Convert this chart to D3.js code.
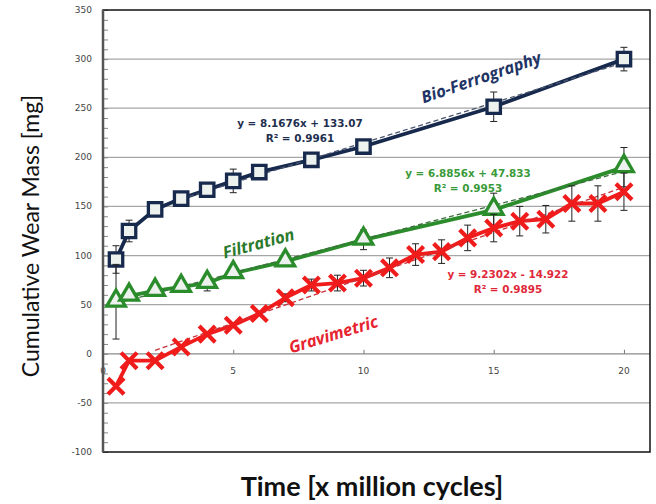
<!DOCTYPE html>
<html>
<head>
<meta charset="utf-8">
<script src="https://cdn.jsdelivr.net/npm/d3@7"></script>
<style>
  body { margin: 0; background: #fff; }
</style>
</head>
<body>
<div id="chart"></div>
<script>
// values
const bioX = [0.5, 1, 2, 3, 4, 5, 6, 8, 10, 15, 20]
const bioY = [96, 125, 147, 158, 167, 176, 185, 197.5, 211, 251.5, 300]
const bioErr = [14, 11, 2, 2, 2, 12, 2, 2, 2, 15, 12]

const filtX = [0.5, 1, 2, 3, 4, 5, 7, 10, 15, 20]
const filtY = [53, 59, 64, 68, 72, 82, 94, 116, 146.5, 190]
const filtErr = [38, 2, 2, 2, 8, 2, 2, 10, 17, 20]

const gravX = [0.5, 1, 2, 3, 4, 5, 6, 7, 8, 9, 10, 11, 12, 13, 14, 15, 16, 17, 18, 19, 20]
const gravY = [-33, -7, -7, 7, 20, 29, 41, 57, 70, 72, 77, 87.5, 101, 104, 118, 128, 135, 137, 153, 153, 165]
const gravErr = [2, 2, 2, 2, 2, 2, 2, 4, 6, 8, 8, 10, 11, 12, 13, 14, 15, 14, 18, 18, 19]

// excel trendlines: slope, intercept, x range
const bioTrend = [8.1676, 133.07, 3, 20]
const filtTrend = [6.8856, 47.833, 0.5, 20]
const gravTrend = [9.2302, -14.922, 2, 20]

const yTicks = [-100, -50, 0, 50, 100, 150, 200, 250, 300, 350]
const xTicks = [0, 5, 10, 15, 20]

async function drawChart() {
  let dimensions = {
    width: 656,
    height: 504,
    margin: { top: 10, right: 6, bottom: 52, left: 103 },
  }
  dimensions.boundedWidth = dimensions.width - dimensions.margin.left - dimensions.margin.right
  dimensions.boundedHeight = dimensions.height - dimensions.margin.top - dimensions.margin.bottom

  const svg = d3.select("#chart")
    .append("svg")
      .attr("width", dimensions.width)
      .attr("height", dimensions.height)

  const bounds = svg.append("g")
    .attr("transform", `translate(${dimensions.margin.left},${dimensions.margin.top})`)

  const xScale = d3.scaleLinear().domain([0, 21]).range([0, dimensions.boundedWidth])
  const yScale = d3.scaleLinear().domain([-100, 350]).range([dimensions.boundedHeight, 0])

  // gridlines
  bounds.selectAll(".grid")
    .data(yTicks.filter(d => d != -100 && d != 350))
    .enter().append("line")
      .attr("x1", 0).attr("x2", dimensions.boundedWidth)
      .attr("y1", d => yScale(d)).attr("y2", d => yScale(d))
      .attr("stroke", d => d == 0 ? "#8a8a8a" : "#a6a6a6")
      .attr("stroke-width", 1.2)

  // y axis with minor ticks pointing inwards
  const yAxis = d3.axisRight(yScale)
    .tickValues(d3.range(-100, 351, 10))
    .tickSize(5)
    .tickFormat("")
  const yAxisG = bounds.append("g").call(yAxis)
  yAxisG.select(".domain").remove()
  yAxisG.selectAll(".tick line").attr("stroke", "#888")

  bounds.append("g")
    .selectAll("text")
    .data(yTicks)
    .enter().append("text")
      .attr("x", -11)
      .attr("y", d => yScale(d) + 3)
      .attr("text-anchor", "end")
      .attr("font-family", "DejaVu Sans")
      .attr("font-size", 9)
      .attr("fill", "#444")
      .text(d => d)

  // x axis sits at y = 0
  const xAxis = d3.axisTop(xScale).tickValues(xTicks.slice(1)).tickSize(4).tickFormat("")
  const xAxisG = bounds.append("g")
    .attr("transform", `translate(0,${yScale(0)})`)
    .call(xAxis)
  xAxisG.select(".domain").remove()
  xAxisG.selectAll(".tick line").attr("stroke", "#777")

  bounds.append("g")
    .selectAll("text")
    .data(xTicks)
    .enter().append("text")
      .attr("x", d => xScale(d))
      .attr("y", yScale(0) + 20)
      .attr("text-anchor", "middle")
      .attr("font-family", "DejaVu Sans")
      .attr("font-size", 9)
      .attr("fill", "#444")
      .text(d => d)

  // frame
  bounds.append("rect")
    .attr("width", dimensions.boundedWidth)
    .attr("height", dimensions.boundedHeight)
    .attr("fill", "none")
    .attr("stroke", "#111")
    .attr("stroke-width", 1.5)
  bounds.append("line")
    .attr("x1", 0).attr("x2", 0)
    .attr("y1", 0).attr("y2", dimensions.boundedHeight)
    .attr("stroke", "#555")
    .attr("stroke-width", 2.5)

  const series = [
    { x: bioX, y: bioY, err: bioErr, trend: bioTrend, color: "#172a4d", dash: "#4a5670", marker: "square" },
    { x: filtX, y: filtY, err: filtErr, trend: filtTrend, color: "#2a8c2a", dash: "#3f6f3f", marker: "triangle" },
    { x: gravX, y: gravY, err: gravErr, trend: gravTrend, color: "#f01c1c", dash: "#c8323c", marker: "times" },
  ]

  const lineGenerator = d3.line()
    .x(d => xScale(d[0]))
    .y(d => yScale(d[1]))

  series.forEach(s => {
    const pts = s.x.map((x, i) => [x, s.y[i], s.err[i]])
    const g = bounds.append("g")

    g.append("path")
      .attr("d", lineGenerator(pts))
      .attr("fill", "none")
      .attr("stroke", s.color)
      .attr("stroke-width", 3.8)
      .attr("stroke-linejoin", "round")

    const [m, b, x0, x1] = s.trend
    g.append("path")
      .attr("d", lineGenerator([[x0, m * x0 + b], [x1, m * x1 + b]]))
      .attr("fill", "none")
      .attr("stroke", s.dash)
      .attr("stroke-width", 1.3)
      .attr("stroke-dasharray", "5,3")

    // error bars
    const eb = g.selectAll(".err").data(pts).enter().append("g")
    eb.append("line")
      .attr("x1", d => xScale(d[0])).attr("x2", d => xScale(d[0]))
      .attr("y1", d => yScale(d[1] - d[2])).attr("y2", d => yScale(d[1] + d[2]))
      .attr("stroke", "#222").attr("stroke-width", 1)
    ;[-1, 1].forEach(sign => {
      eb.append("line")
        .attr("x1", d => xScale(d[0]) - 3.5).attr("x2", d => xScale(d[0]) + 3.5)
        .attr("y1", d => yScale(d[1] + sign * d[2])).attr("y2", d => yScale(d[1] + sign * d[2]))
        .attr("stroke", "#222").attr("stroke-width", 1)
    })

    // markers
    const sym = s.marker == "square" ? d3.symbol().type(d3.symbolSquare).size(180)
      : s.marker == "triangle" ? d3.symbol().type(d3.symbolTriangle).size(150)
      : d3.symbol().type(d3.symbolTimes).size(170)
    g.selectAll(".mark").data(pts).enter().append("path")
      .attr("d", sym)
      .attr("transform", d => `translate(${xScale(d[0])},${yScale(d[1]) + (s.marker == "triangle" ? -1 : 0)})`)
      .attr("fill", s.marker == "times" ? "none" : "#eef2ee")
      .attr("stroke", s.color)
      .attr("stroke-width", s.marker == "times" ? 4.2 : 3.3)
  })

  // equation labels
  const eqs = [
    { lines: ["y = 8.1676x + 133.07", "R\u00b2 = 0.9961"], x: 300, y: 127, color: "#1f2f4f" },
    { lines: ["y = 6.8856x + 47.833", "R\u00b2 = 0.9953"], x: 468, y: 177, color: "#3a9a3a" },
    { lines: ["y = 9.2302x - 14.922", "R\u00b2 = 0.9895"], x: 508, y: 278, color: "#e0283a" },
  ]
  eqs.forEach(e => {
    e.lines.forEach((t, i) => {
      svg.append("text")
        .attr("x", e.x)
        .attr("y", e.y + i * 15)
        .attr("text-anchor", "middle")
        .attr("font-family", "DejaVu Sans")
        .attr("font-weight", "bold")
        .attr("font-size", 10.4)
        .attr("fill", e.color)
        .text(t)
    })
  })

  const names = [
    { text: "Bio-Ferrography", x: 483, y: 83, angle: -19, color: "#1f3566" },
    { text: "Filtration", x: 260, y: 249, angle: -15, color: "#2b7a2b" },
    { text: "Gravimetric", x: 335, y: 340, angle: -17, color: "#e62430" },
  ]
  names.forEach(n => {
    svg.append("text")
      .attr("transform", `translate(${n.x},${n.y}) rotate(${n.angle})`)
      .attr("text-anchor", "middle")
      .attr("font-family", "Open Sans")
      .attr("font-weight", "bold")
      .attr("font-style", "italic")
      .attr("font-size", 16.5)
      .attr("fill", n.color)
      .text(n.text)
  })

  // axis titles
  svg.append("text")
    .attr("transform", `translate(39,236) rotate(-90)`)
    .attr("text-anchor", "middle")
    .attr("font-family", "Lato")
    .attr("font-size", 23)
    .attr("fill", "#111")
    .text("Cumulative Wear Mass [mg]")

  svg.append("text")
    .attr("x", 372)
    .attr("y", 496)
    .attr("text-anchor", "middle")
    .attr("font-family", "Lato")
    .attr("font-weight", "bold")
    .attr("font-size", 27)
    .attr("fill", "#111")
    .text("Time [x million cycles]")
}
drawChart()
</script>
</body>
</html>
